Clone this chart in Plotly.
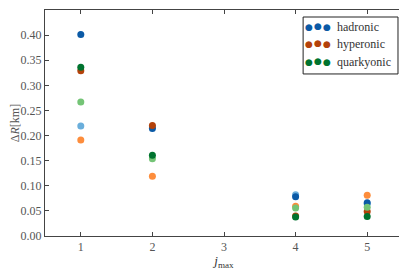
import plotly.graph_objects as go

jmax = [1, 2, 4, 5]

# series values (Delta R in km) per j_max
hadronic_dark = [0.401, 0.214, 0.078, 0.066]
hadronic_light = [0.219, 0.217, 0.082, 0.064]
hyperonic_dark = [0.329, 0.220, 0.040, 0.049]
hyperonic_light = [0.191, 0.119, 0.059, 0.081]
quarkyonic_dark = [0.336, 0.161, 0.038, 0.039]
quarkyonic_light = [0.267, 0.154, 0.056, 0.057]

legend_names = ["hadronic", "hyperonic", "quarkyonic"]

C_HAD_D, C_HAD_L = "#0b5aa6", "#6aaedb"
C_HYP_D, C_HYP_L = "#b4420a", "#fd8d3c"
C_QRK_D, C_QRK_L = "#00732f", "#74c476"

font_fam = "Liberation Serif"

fig = go.Figure()
order = [
    (hadronic_light, C_HAD_L),
    (hadronic_dark, C_HAD_D),
    (hyperonic_light, C_HYP_L),
    (hyperonic_dark, C_HYP_D),
    (quarkyonic_light, C_QRK_L),
    (quarkyonic_dark, C_QRK_D),
]
for vals, col in order:
    fig.add_trace(go.Scatter(x=jmax, y=vals, mode="markers",
                             marker=dict(color=col, size=7, line=dict(width=0)),
                             showlegend=False, hoverinfo="skip"))

axis_common = dict(showgrid=False, zeroline=False, showline=True, linecolor="#444",
                   linewidth=1, mirror="ticks", ticks="inside", ticklen=4,
                   tickcolor="#444", tickfont=dict(family=font_fam, size=12, color="#555"))

fig.update_xaxes(range=[0.5, 5.5], tickvals=[1, 2, 3, 4, 5],
                 title=dict(text="<i>j</i><sub>max</sub>", font=dict(family=font_fam, size=13, color="#333"),
                            standoff=0),
                 **axis_common)
fig.update_yaxes(range=[0, 0.45], dtick=0.05, tickformat=".2f",
                 title=dict(text="Δ<i>R</i>[km]", font=dict(family=font_fam, size=12, color="#555"),
                            standoff=2),
                 **axis_common)

# custom legend (three dots per entry, as in matplotlib scatter legend)
shapes = [dict(type="rect", xref="paper", yref="paper", x0=0.721, x1=0.986, y0=0.717, y1=0.969,
               line=dict(color="#222", width=1), fillcolor="white", layer="below")]
annotations = []
leg_cols = [C_HAD_D, C_HYP_D, C_QRK_D]
row_y = [0.925, 0.848, 0.768]
for name, col, yy in zip(legend_names, leg_cols, row_y):
    for dx, sz, dy in [(0.737, 9, 0.0), (0.762, 9, 0.006), (0.787, 9, 0.0)]:
        annotations.append(dict(xref="paper", yref="paper", x=dx, y=yy + dy, text="●",
                                showarrow=False, font=dict(family="DejaVu Sans", size=sz, color=col),
                                xanchor="center", yanchor="middle"))
    annotations.append(dict(xref="paper", yref="paper", x=0.81, y=yy, text=name,
                            showarrow=False, font=dict(family=font_fam, size=12, color="#333"),
                            xanchor="left", yanchor="middle"))

# page body has an 8px default margin, so the figure is sized to fit inside the window
fig.update_layout(width=399, height=262, margin=dict(l=37, r=4, t=2, b=34, autoexpand=False),
                  plot_bgcolor="white", paper_bgcolor="white",
                  font=dict(family=font_fam),
                  shapes=shapes, annotations=annotations)

fig.write_html("out.html")
